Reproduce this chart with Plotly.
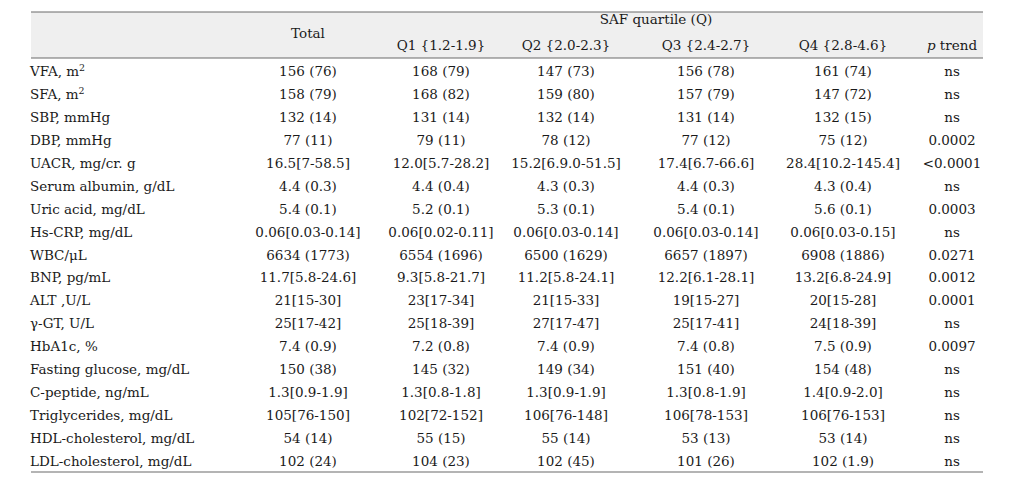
import plotly.graph_objects as go

# ---------------- data ----------------
variables = [
    "VFA, m<sup>2</sup>", "SFA, m<sup>2</sup>", "SBP, mmHg", "DBP, mmHg",
    "UACR, mg/cr. g", "Serum albumin, g/dL", "Uric acid, mg/dL", "Hs-CRP, mg/dL",
    "WBC/\u03bcL", "BNP, pg/mL", "ALT ,U/L", "\u03b3-GT, U/L", "HbA1c, %",
    "Fasting glucose, mg/dL", "C-peptide, ng/mL", "Triglycerides, mg/dL",
    "HDL-cholesterol, mg/dL", "LDL-cholesterol, mg/dL",
]
total = ["156 (76)", "158 (79)", "132 (14)", "77 (11)", "16.5[7-58.5]", "4.4 (0.3)",
         "5.4 (0.1)", "0.06[0.03-0.14]", "6634 (1773)", "11.7[5.8-24.6]", "21[15-30]",
         "25[17-42]", "7.4 (0.9)", "150 (38)", "1.3[0.9-1.9]", "105[76-150]",
         "54 (14)", "102 (24)"]
q1 = ["168 (79)", "168 (82)", "131 (14)", "79 (11)", "12.0[5.7-28.2]", "4.4 (0.4)",
      "5.2 (0.1)", "0.06[0.02-0.11]", "6554 (1696)", "9.3[5.8-21.7]", "23[17-34]",
      "25[18-39]", "7.2 (0.8)", "145 (32)", "1.3[0.8-1.8]", "102[72-152]",
      "55 (15)", "104 (23)"]
q2 = ["147 (73)", "159 (80)", "132 (14)", "78 (12)", "15.2[6.9.0-51.5]", "4.3 (0.3)",
      "5.3 (0.1)", "0.06[0.03-0.14]", "6500 (1629)", "11.2[5.8-24.1]", "21[15-33]",
      "27[17-47]", "7.4 (0.9)", "149 (34)", "1.3[0.9-1.9]", "106[76-148]",
      "55 (14)", "102 (45)"]
q3 = ["156 (78)", "157 (79)", "131 (14)", "77 (12)", "17.4[6.7-66.6]", "4.4 (0.3)",
      "5.4 (0.1)", "0.06[0.03-0.14]", "6657 (1897)", "12.2[6.1-28.1]", "19[15-27]",
      "25[17-41]", "7.4 (0.8)", "151 (40)", "1.3[0.8-1.9]", "106[78-153]",
      "53 (13)", "101 (26)"]
q4 = ["161 (74)", "147 (72)", "132 (15)", "75 (12)", "28.4[10.2-145.4]", "4.3 (0.4)",
      "5.6 (0.1)", "0.06[0.03-0.15]", "6908 (1886)", "13.2[6.8-24.9]", "20[15-28]",
      "24[18-39]", "7.5 (0.9)", "154 (48)", "1.4[0.9-2.0]", "106[76-153]",
      "53 (14)", "102 (1.9)"]
p_trend = ["ns", "ns", "ns", "0.0002", "<0.0001", "ns", "0.0003", "ns", "0.0271",
           "0.0012", "0.0001", "ns", "0.0097", "ns", "ns", "ns", "ns", "ns"]

group_title = "SAF quartile (Q)"
total_title = "Total"
sub_titles = ["Q1 {1.2-1.9}", "Q2 {2.0-2.3}", "Q3 {2.4-2.7}", "Q4 {2.8-4.6}", "<i>p</i> trend"]

# ---------------- layout helpers ----------------
FONT = "DejaVu Serif"
FS = 13.5
TXT = "#1a1a1a"
col_x = [308, 441, 566, 706, 843, 952]   # column centres (pixel-like x units)
label_x = 30
x_left, x_right = 31, 983
row0_px, row_step = 73, 22.9

def r(px):
    return (px - row0_px) / row_step

rows = list(range(len(variables)))

fig = go.Figure()

# header background and rules
fig.add_shape(type="rect", x0=x_left, x1=x_right, y0=r(12), y1=r(58),
              fillcolor="#efefef", line_width=0, layer="below")
for yy in (r(12), r(58), r(472)):
    fig.add_shape(type="line", x0=x_left, x1=x_right, y0=yy, y1=yy,
                  line=dict(color="#6a6a6a", width=1.2))

# row labels
fig.add_trace(go.Scatter(x=[label_x] * len(rows), y=rows, text=variables, mode="text",
                         textposition="middle right",
                         textfont=dict(family=FONT, size=FS, color=TXT),
                         hoverinfo="skip"))

for cx, col in zip(col_x, [total, q1, q2, q3, q4, p_trend]):
    fig.add_trace(go.Scatter(x=[cx] * len(rows), y=rows, text=col, mode="text",
                             textposition="middle center",
                             textfont=dict(family=FONT, size=FS, color=TXT),
                             hoverinfo="skip"))

# header texts
fig.add_trace(go.Scatter(x=[col_x[0]], y=[r(35)], text=[total_title], mode="text",
                         textposition="middle center",
                         textfont=dict(family=FONT, size=FS, color=TXT), hoverinfo="skip"))
fig.add_trace(go.Scatter(x=[(col_x[2] + col_x[3]) / 2 + 20], y=[r(21)], text=[group_title],
                         mode="text", textposition="middle center",
                         textfont=dict(family=FONT, size=FS, color=TXT), hoverinfo="skip"))
fig.add_trace(go.Scatter(x=col_x[1:], y=[r(47)] * 5, text=sub_titles, mode="text",
                         textposition="middle center",
                         textfont=dict(family=FONT, size=FS, color=TXT), hoverinfo="skip"))

fig.update_layout(
    width=1024, height=494,
    margin=dict(l=0, r=0, t=0, b=0),
    paper_bgcolor="white", plot_bgcolor="white",
    showlegend=False,
    xaxis=dict(range=[0, 1024], visible=False, fixedrange=True),
    yaxis=dict(range=[r(494), r(0)], visible=False, fixedrange=True),
)

fig.write_html("out.html", config={"displayModeBar": False},
               post_script="document.body.style.margin='0';document.body.style.overflow='hidden';")
